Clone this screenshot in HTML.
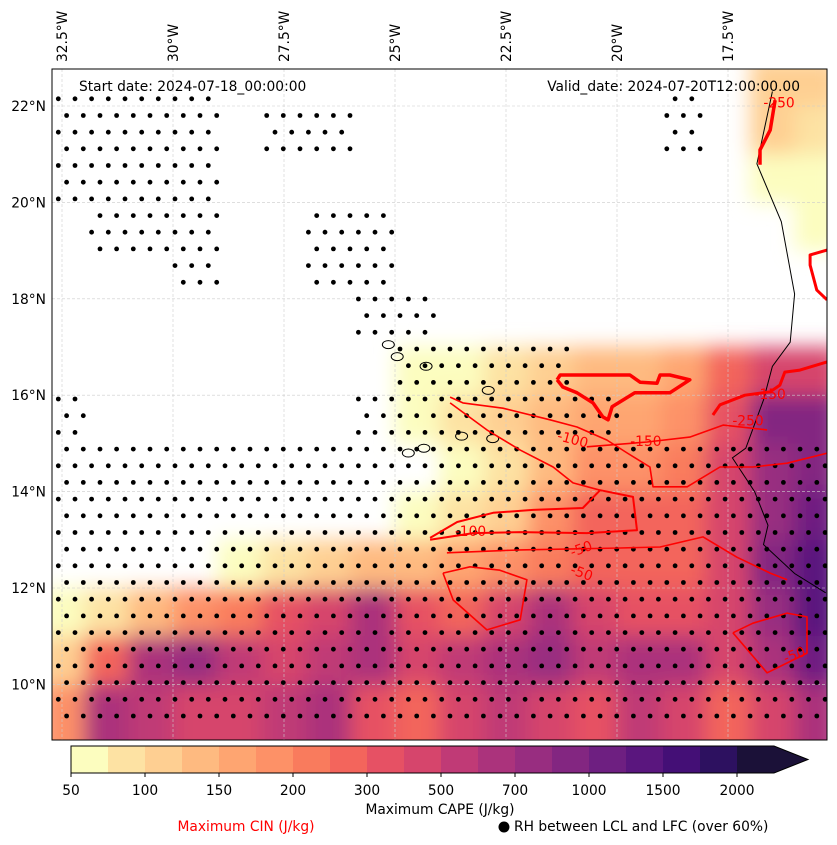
<!DOCTYPE html>
<html><head><meta charset="utf-8">
<style>
body{margin:0;background:#fff;font-family:"Liberation Sans","DejaVu Sans",sans-serif;}
svg{display:block}
text{font-family:"DejaVu Sans","Liberation Sans",sans-serif;}
</style></head>
<body>
<svg id="chart" width="837" height="845" viewBox="0 0 837 845" xmlns="http://www.w3.org/2000/svg">
<defs>
<clipPath id="mapclip"><rect x="52" y="69" width="775" height="671"/></clipPath>
<filter id="blur" x="-10%" y="-10%" width="120%" height="120%"><feGaussianBlur stdDeviation="10"/></filter>
</defs>
<g id="map" clip-path="url(#mapclip)">
<g id="heat" filter="url(#blur)"></g>
<g id="grid"></g>
<g id="coast"></g>
<g id="dots"></g>
<g id="contours"></g>
</g>
<rect x="52" y="69" width="775" height="671" fill="none" stroke="#000" stroke-width="1"/>
<text x="79" y="91" font-size="13.8">Start date: 2024-07-18_00:00:00</text>
<text x="800" y="91" font-size="13.8" text-anchor="end">Valid_date: 2024-07-20T12:00:00.00</text>
<g id="axes"></g>
<g id="cbar"></g>
<text x="440" y="814" font-size="13.8" text-anchor="middle">Maximum CAPE (J/kg)</text>
<text x="246" y="831" font-size="13.8" text-anchor="middle" fill="#ff0000">Maximum CIN (J/kg)</text>
<circle cx="504" cy="827" r="5.5" fill="#000"/>
<text x="514" y="831" font-size="13.8">RH between LCL and LFC (over 60%)</text>
</svg>
<script>
const NS="http://www.w3.org/2000/svg";
// ---- data ----
const latTicks=[22,20,18,16,14,12,10];
const lonTicks=[-32.5,-30,-27.5,-25,-22.5,-20,-17.5];
const cbarLabels=["50","100","150","200","300","500","700","1000","1500","2000"];
const cbarColors=["#fcfdbf","#fde2a3","#fecf92","#feba80","#fea571","#fd9167","#f97b5d","#f3655c","#e65164","#d6456c","#c03a76","#ab337c","#982d80","#832681","#6e1f81","#5a167e","#440f76","#2d1160","#1b1138"];
const gridLonStart=-33, gridLatTop=23;
const capeRows=[
[0,0,0,0,0,0,0,0,0,0,0,0,0,0,0,0,3,3],
[0,0,0,0,0,0,0,0,0,0,0,0,0,0,0,0,3,2],
[0,0,0,0,0,0,0,0,0,0,0,0,0,0,0,0,1,1],
[0,0,0,0,0,0,0,0,0,0,0,0,0,0,0,0,0,1],
[0,0,0,0,0,0,0,0,0,0,0,0,0,0,0,0,0,0],
[0,0,0,0,0,0,0,0,0,0,0,0,0,0,0,0,0,0],
[0,0,0,0,0,0,0,0,1,1,2,3,4,4,5,8,10,10],
[0,0,0,0,0,0,0,0,1,2,3,4,5,5,6,9,14,14],
[0,0,0,0,0,0,0,0,0,1,2,4,6,6,7,10,13,14],
[0,0,0,0,0,0,0,0,1,2,3,6,8,8,8,10,13,15],
[0,0,0,0,1,2,3,4,4,5,6,7,8,8,8,10,14,16],
[1,2,4,6,7,9,10,12,9,8,10,12,10,9,9,10,13,16],
[3,8,12,13,11,10,11,12,10,11,12,13,11,12,12,10,12,15],
[6,12,11,10,10,11,12,9,8,10,11,10,9,11,10,8,10,12]
];
const dotRows=[
[1,1,1,1,0,0,0,0,0,0,0,0,0,0,1,0,0,0],
[1,1,1,1,0,1,1,0,0,0,0,0,0,0,1,0,0,0],
[1,1,1,1,0,0,0,0,0,0,0,0,0,0,0,0,0,0],
[0,1,1,1,0,0,1,1,0,0,0,0,0,0,0,0,0,0],
[0,0,0,1,0,0,1,1,0,0,0,0,0,0,0,0,0,0],
[0,0,0,0,0,0,0,1,1,0,0,0,0,0,0,0,0,0],
[0,0,0,0,0,0,0,0,1,1,1,1,0,0,0,0,0,0],
[1,0,0,0,0,0,0,1,1,1,1,1,1,0,0,0,0,0],
[1,1,1,1,1,1,1,1,1,1,1,1,1,1,1,1,1,1],
[1,1,1,1,1,1,1,1,1,1,1,1,1,1,1,1,1,1],
[1,1,1,1,1,1,1,1,1,1,1,1,1,1,1,1,1,1],
[1,1,1,1,1,1,1,1,1,1,1,1,1,1,1,1,1,1],
[1,1,1,1,1,1,1,1,1,1,1,1,1,1,1,1,1,1],
[1,1,1,1,1,1,1,1,1,1,1,1,1,1,1,1,1,1]
];
const cin250A=[[-21.35,16.32],[-21.22,16.17],[-20.9,16.05],[-20.54,15.84],[-20.32,15.55],[-20.2,15.49],[-20.11,15.76],[-19.6,16.05],[-18.81,16.05],[-18.36,16.32],[-18.81,16.42],[-19.03,16.42],[-19.1,16.25],[-19.48,16.27],[-19.71,16.42],[-21.28,16.42],[-21.35,16.32]];
const cin250B=[[-17.84,15.59],[-17.68,15.8],[-17.12,16.0],[-16.55,16.07],[-16.33,16.21],[-16.22,16.48],[-15.88,16.52],[-15.27,16.69]];
const cin250C=[[-16.78,20.78],[-16.78,21.09],[-16.55,21.5],[-16.44,22.12]];
const cin250D=[[-15.27,19.01],[-15.65,18.91],[-15.65,18.7],[-15.5,18.18],[-15.27,17.98]];
const cin150=[[-20.68,14.93],[-19.32,15.03],[-18.36,15.13],[-17.61,15.38],[-16.62,15.28]];
const cin100U=[[-23.76,15.96],[-23.47,15.84],[-22.57,15.73],[-21.51,15.49],[-20.9,15.34],[-20.23,15.07],[-19.77,14.8],[-19.26,14.51],[-19.19,14.1],[-18.42,14.1],[-17.68,14.51],[-16.94,14.51],[-16.17,14.59],[-15.25,14.8]];
const cin100L=[[-23.76,15.84],[-22.93,15.28],[-22.18,14.86],[-21.44,14.51],[-20.99,14.18],[-20.38,14.03]];
const cin100Band=[[-24.21,13.04],[-23.6,13.37],[-22.79,13.56],[-21.89,13.62],[-20.77,13.66],[-20.38,14.03],[-19.64,13.89],[-19.55,13.2],[-20.68,13.14],[-22.18,13.16],[-23.24,13.14],[-24.21,13.0]];
const cin50=[[-23.83,12.73],[-22.18,12.79],[-19.93,12.83],[-19.03,12.85],[-18.06,13.06],[-17.3,12.64],[-16.55,12.31],[-16.17,12.17]];
const cin100LL=[[-23.92,12.31],[-23.69,11.75],[-22.93,11.13],[-22.18,11.34],[-22.03,12.17],[-22.64,12.37],[-23.31,12.44],[-23.92,12.31]];
const cin50SE=[[-17.39,11.07],[-16.62,10.24],[-15.72,10.65],[-15.72,11.4],[-16.17,11.48],[-16.94,11.27],[-17.39,11.07]];
const coastLine=[[-16.5,22.3],[-16.85,20.8],[-16.3,19.6],[-16.0,18.1],[-16.1,17.1],[-16.5,16.6],[-16.7,15.9],[-17.1,14.9],[-17.4,14.7],[-16.9,14.0],[-16.6,13.3],[-16.7,12.9],[-16.0,12.3],[-15.3,11.9]];
const islands=[[-25.15,17.05],[-24.95,16.8],[-24.3,16.6],[-22.9,16.1],[-22.8,15.1],[-23.5,15.15],[-24.35,14.9],[-24.7,14.8]];
const cinLabels=[["-250",-17.05,15.45,0],["-150",-19.35,15.03,0],["-100",-21.0,15.07,15],["-100",-23.3,13.16,0],["-50",-20.8,12.8,-20],["-50",-20.8,12.3,20],["-50",-16.0,10.6,-20],["-250",-16.35,22.05,0],["-150",-16.55,16.0,0]];
// ---- scales ----
const x=lon=>62+(lon+32.5)*44.4;
const y=lat=>106+(22-lat)*48.2;
const pts=a=>a.map(p=>x(p[0]).toFixed(1)+","+y(p[1]).toFixed(1)).join(" ");
function mk(tag,parent,attrs){const e=document.createElementNS(NS,tag);for(const k in attrs)e.setAttribute(k,attrs[k]);parent.appendChild(e);return e;}
// heatmap
const heat=document.getElementById("heat");
capeRows.forEach((row,r)=>{row.forEach((v,c)=>{
  if(!v)return;
  const x0=x(gridLonStart+c), x1=x(gridLonStart+c+1);
  const y0=y(gridLatTop-r), y1=y(gridLatTop-r-1)+(r===capeRows.length-1?60:0);
  const e=mk("rect",heat,{x:x0,y:y0,width:x1-x0+0.5,height:y1-y0+0.5,fill:cbarColors[Math.min(v,cbarColors.length)-1]});
  
  
});});
// grid
const grid=document.getElementById("grid");
latTicks.forEach(t=>{mk("line",grid,{x1:52,x2:827,y1:y(t),y2:y(t),stroke:"#ccc","stroke-width":0.6,"stroke-dasharray":"3,2"});});
lonTicks.forEach(t=>{mk("line",grid,{x1:x(t),x2:x(t),y1:69,y2:740,stroke:"#ccc","stroke-width":0.6,"stroke-dasharray":"3,2"});});
// coast
const coast=document.getElementById("coast");
mk("polyline",coast,{points:pts(coastLine),fill:"none",stroke:"#000","stroke-width":1});
islands.forEach(p=>{const e=mk("ellipse",coast,{cx:x(p[0]),cy:y(p[1]),rx:6,ry:4,fill:"none",stroke:"#000","stroke-width":1});
  
  });
// dots
const dots=document.getElementById("dots");
const dx=16.67, dy=16.68, x0d=58.3, y0d=98.8;
for(let j=0;j<40;j++){
  const yy=y0d+j*dy; if(yy>738)break;
  const lat=22-(yy-106)/48.2; const r=Math.floor(gridLatTop-lat);
  if(r<0||r>=dotRows.length)continue;
  for(let i=-1;i<50;i++){
    const xx=x0d+i*dx+(j%2?8.33:0); if(xx<54||xx>826)continue;
    const lon=-32.5+(xx-62)/44.4; const c=Math.floor(lon-gridLonStart);
    if(c<0||c>=18||!dotRows[r][c])continue;
    const d=mk("circle",dots,{cx:xx.toFixed(1),cy:yy.toFixed(1),r:2.4,fill:"#000"});
    
    
  }
}
// contours
const cg=document.getElementById("contours");
[[cin250A,3.5],[cin250B,3],[cin250C,3.5],[cin250D,3],[cin150,1.6],[cin100U,1.6],[cin100L,1.6],[cin100Band,2],[cin50,1.6],[cin100LL,1.6],[cin50SE,1.6]].forEach(([a,w])=>{
  const e=mk("polyline",cg,{points:pts(a),fill:"none",stroke:"#ff0000","stroke-width":w,"stroke-linejoin":"round"});
  
  
});
cinLabels.forEach(l=>{const X=x(l[1]),Y=y(l[2]);
  const t=mk("text",cg,{x:X,y:Y+4,"font-size":13.8,fill:"#ff0000","text-anchor":"middle",transform:`rotate(${l[3]} ${X} ${Y})`});
  t.textContent=l[0];
  
  });
// axes labels
const ax=document.getElementById("axes");
latTicks.forEach(t=>{const e=mk("text",ax,{x:46,y:y(t)+5,"font-size":13.8,"text-anchor":"end"});e.textContent=t+"°N";
  
  });
lonTicks.forEach(t=>{const X=x(t)+5;const e=mk("text",ax,{x:X,y:62,"font-size":13.8,transform:`rotate(-90 ${X} 62)`});e.textContent=Math.abs(t)+"°W";
  
  });
// colorbar
const cb=document.getElementById("cbar");
const cbx=71, cbw=37, cby=746, cbh=27, nb=cbarColors.length;
cbarColors.forEach((c,i)=>{const e=mk("rect",cb,{x:cbx+i*cbw,y:cby,width:cbw+0.5,height:cbh,fill:c});
  
  });
const endX=cbx+(nb-1)*cbw;
mk("polygon",cb,{points:`${endX+cbw},${cby} ${endX+cbw+34},${cby+cbh/2} ${endX+cbw},${cby+cbh}`,fill:cbarColors[nb-1]});
mk("polygon",cb,{points:`${cbx},${cby} ${endX+cbw},${cby} ${endX+cbw+34},${cby+cbh/2} ${endX+cbw},${cby+cbh} ${cbx},${cby+cbh}`,fill:"none",stroke:"#000","stroke-width":1});
cbarLabels.forEach((l,i)=>{const X=cbx+i*2*cbw;
  mk("line",cb,{x1:X,x2:X,y1:cby+cbh,y2:cby+cbh+4,stroke:"#000"});
  const e=mk("text",cb,{x:X,y:795,"font-size":13.8,"text-anchor":"middle"});e.textContent=l;
  
  });
</script>
</body></html>
